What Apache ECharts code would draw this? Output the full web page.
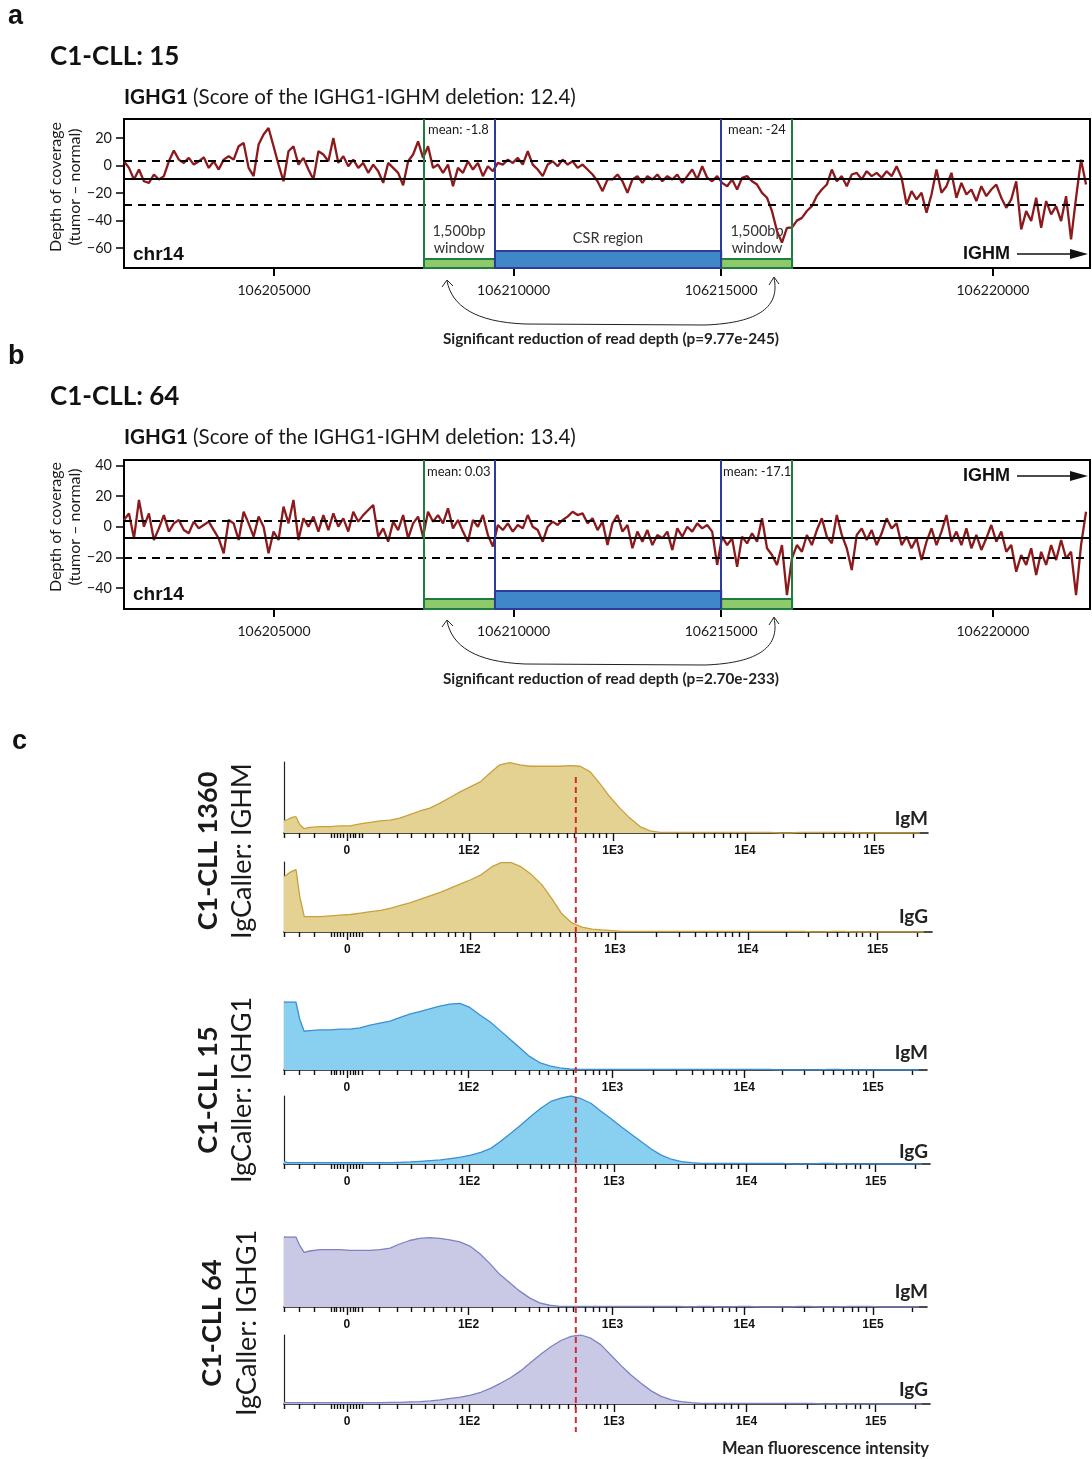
<!DOCTYPE html>
<html><head><meta charset="utf-8">
<script src="https://cdn.jsdelivr.net/npm/echarts@6/dist/echarts.min.js"></script>
<style>html,body{margin:0;padding:0;background:#fff}#c{width:1092px;height:1459px}</style>
</head><body><div id="c"></div>
<script>
// ---------- Panels a / b : depth of coverage (tumor - normal) ----------
const covStart = 106201870;   // first bin (bp)
const covStep = 104;          // bin width (bp)
const covMin = 106201870, covMax = 106222025;
const covA = [3.1,-1.7,-10.1,-2.9,-11.4,-12.6,-6.5,-10.1,-7.7,3.1,
 10.9,4.3,1.9,5.6,0.7,3.1,6,-1.7,3.1,-2.9,
 4.3,6.8,4.3,14,16.4,-1.7,-7.7,15.2,22.5,27.3,
 14,0.7,-11.4,10.4,14,0.7,5.6,-2.9,-10.1,10.4,
 8,3.1,20,1.9,6.8,-0.5,4.3,-1.7,1.9,-5.3,
 0.7,-4.1,-12.6,1.9,-1.7,-5.3,-14.3,3.1,8,17.6,
 5.6,14,-1.7,0.7,-5.3,0.7,-15,-1.7,-5.3,3.1,
 -2.9,1.9,-7.7,-0.5,-4.1,1.9,0.7,4.3,1.9,5.6,
 0.7,10.4,0.7,-2.9,-7.7,0.7,3.1,-0.5,4.3,0.7,
 3.1,-1.7,0.7,-2.9,-6.5,-11.4,-18.6,-10.1,
 -10.1,-6.5,-11.4,-19.8,-10.1,-7.7,-12.6,-7.7,-10.1,-6.5,
 -11.4,-7.7,-10.1,-6.5,-12.6,-7.7,-2.9,-10.1,-0.5,-8.9,
 -11.4,-7.7,-12.6,-15,-10.1,-17.4,-8.9,-7.7,-11.4,-13.8,
 -19.8,-23.4,-33.1,-47.6,-56,-45.2,-45,-40,-38,-33,
 -29.5,-22,-17.4,-13.8,-2.9,-11.4,-7.7,-15,-6.5,-5.3,
 -10.1,-4.1,-7.7,-5.3,-8.9,-4.1,-7.7,-0.5,-8.9,-28.3,
 -18.6,-24.6,-19.8,-34.3,-21,-2.9,-19.8,-15,-5.3,-23.4,
 -12.6,-21,-17.4,-25.8,-15,-22.2,-17.4,-13.8,-23.4,-30.7,
 -24.6,-11.4,-46.4,-33.1,-40.3,-23.4,-45.2,-25.8,-35.5,-29.5,
 -40.3,-22.2,-53.6,-23.4,4.3,-13.8];
const covB = [4.4,8.7,-7.6,17.5,0,8.7,-8.7,-1.1,7.6,-3.2,
 2.2,4.4,-2.2,-4.3,3.3,-1.1,1.1,3.3,-2.2,-7.6,
 -17.4,4.4,2.2,-8.7,9.8,2.2,-6.5,6.6,0,-17.4,
 -3.2,-8.7,13.1,2.2,17.5,-8.7,5.5,0,6.6,-3.2,
 7.6,-2.2,8.7,0,5.5,-3.2,9.8,3.3,7.6,10.9,
 14.2,-6.5,-1.1,-9.8,3.3,-2.2,7.6,-7.6,2.2,6.6,
 -6.5,9.8,3.3,7.6,2.2,12,-1.1,4.4,-3.2,-9.8,
 4.4,0,7.6,-5.4,-13,1.1,-2.2,2.2,-3.2,1.1,
 -1.1,7.6,0,-2.2,-9.8,0,3.3,1.1,4.4,6.6,
 9.8,7.6,8.7,2.2,5.5,-2.2,3.3,-12,
 2.2,7.6,-3.2,1.1,-14.1,-3.2,-9.8,-2.2,-12,-5.4,
 -7.6,-3.2,-15.2,-1.1,-6.5,0,-3.2,2.2,-1.1,1.1,
 -3.2,-25,-6.5,-12,-7.6,-26.2,-6.5,-10.9,-4.3,-9.8,
 5.5,-14.1,-18.5,-25,-12,-44.7,-20.7,-12,-16.4,-5.4,
 -12,-2.2,5.5,-6.5,-10.9,7.6,-5.4,-14.1,-28.3,-5.4,
 -1.1,-8.7,-2.2,-12,-4.3,5.5,-1.1,2.2,-12,-6.5,
 -14.1,-7.6,-21.8,-9.8,-1.1,-12,-3.2,7.6,-9.8,-3.2,
 -12,-1.1,-14.1,-5.4,-15.2,-7.6,1.1,-9.8,-3.2,-16.4,
 -12,-29.4,-18.5,-25,-14.1,-31.6,-16.4,-25,-12,-21.8,
 -8.7,-20.7,-16.4,-44.7,-12,9.8];
const xTickValues = [106205000, 106210000, 106214330, 106220000];
const xTickLabels = ['106205000', '106210000', '106215000', '106220000'];
const yTicksA = [20, 0, -20, -40, -60];
const yTicksB = [40, 20, 0, -20, -40];
const yRangeA = [-74.4, 33.8];
const yRangeB = [-53.8, 43.6];
const refA = { mean: -9.6, upper: 3.8, lower: -28.5 };
const refB = { mean: -6.9, upper: 3.9, lower: -20 };
const win1 = [106208130, 106209610];
const csr = [106209610, 106214330];
const win2 = [106214330, 106215810];
const barTopsA = { win: -67.9, csr: -62.1 };
const barTopsB = { win: -47.3, csr: -42.0 };

// ---------- Panel c : flow cytometry histograms (channel, % of mode) ----------
const histCh = [0,6,13,19,25,32,41,57,73,89,105,121,137,153,169,184,200,216,232,248,264,280,296,312,328,343,359,375,391,407,423,439,455,471,487,502,518,534,550,566,582,598,614,630,646,661,677,693,709,725,741,757,773,789,805,820,836,852,868,884,900,916,932,948,964,979,995,1011];
const h1360IgM = [17,19,22,23,12,6,8,9,9,10,10,13,15,17,18,21,26,31,35,42,50,58,65,72,85,96,99,96,94,94,94,94,95,94,86,70,51,35,21,9,3,1,0.8,0.8,0.8,0.8,0.8,0.8,0.8,0.8,0.8,0.8,0.8,0,0,0.8,0.8,0.8,0.8,0.8,0.8,0,0,0,0,0,0,0];
const h1360IgG = [79,83,87,89,50,22,22,22,23,24,25,27,29,31,34,38,42,47,52,57,63,69,75,82,93,99,99,93,82,68,48,26,13,7,4,3,2,1,1,1,1,1,1,1,1,1,1,1,1,1,1,1,1,1,1,1,0,0,1,1,0,0,0,0,0,0,0,0];
const h15IgM = [100,100,100,100,75,57,58,59,59,60,60,62,66,69,72,77,82,86,90,94,97,98,92,81,71,59,46,33,20,11,6,3,1.5,1,1,1,1,1,1,1,1,1,1,1,1,1,1,1,1,1,1,1,1,0,0,0,0,0,1,1,0,0,0,0,0,0,0,0];
const h15IgG = [3.5,2,2,2,2,2,2,2,2,2,2,2,2,2,2,2.5,3,4,5,6,8,10,13,17,23,33,45,57,70,82,92,97,100,96,89,78,67,55,44,33,22,13,7,3.5,2,1,1,1,1,1,1,1,1,1,0,0,0,1,1,0,0,0,0,0,0,0,0,0];
const h64IgM = [100,100,100,100,88,78,80,82,82,82,81,81,81,82,84,90,95,98,99,98,96,93,87,76,62,47,35,23,13,6,2.5,1,1,1,1,1,1,1,1,1,1,1,1,1,0,1,1,0,0,1,1,0,0,0,0,1,1,0,0,0,1,1,1,0,0,0,0,0];
const h64IgG = [2.5,2,2,2,2,2,2,2,2,2,2,2,2,2,2.5,2.5,3,3.5,4.5,6,8,10,13,17,23,30,38,48,60,72,83,92,98,100,95,86,71,56,42,30,19,11,6,3.5,2,1,1,1,1,1,1,1,1,1,1,1,1,0,0,0,0,0,0,0,0,0,0,0];
const histMajorCh = [100, 294, 523, 733, 938];
const histMajorLabels = ['0', '1E2', '1E3', '1E4', '1E5'];
const histMinorCh = [0,24,48,75,80,84,89,94,105,110,114,119,124,151,180,202,224,238,259,271,283,332,369,391,407,421,436,450,461,479,492,502,513,588,625,650,668,684,698,709,720,794,829,858,875,891,905,914,927,1000];
const thresholdCh = 464;
const histRows = [
  { label: 'IgM', data: h1360IgM, fill: '#e4d292', stroke: '#c9a03c' },
  { label: 'IgG', data: h1360IgG, fill: '#e4d292', stroke: '#c9a03c' },
  { label: 'IgM', data: h15IgM, fill: '#88cff0', stroke: '#3b8fd4' },
  { label: 'IgG', data: h15IgG, fill: '#88cff0', stroke: '#3b8fd4' },
  { label: 'IgM', data: h64IgM, fill: '#c9c9e6', stroke: '#7d82c2' },
  { label: 'IgG', data: h64IgG, fill: '#c9c9e6', stroke: '#7d82c2' }
];

// ---------- layout ----------
const MY = 'Lato, "Open Sans", sans-serif';
const AR = '"Liberation Sans", Arial, sans-serif';
const covGridPos = [ {left:124, top:119, width:966, height:149}, {left:124, top:460, width:966, height:149} ];
const histGridPos = [
  {left:284, top:762, width:644, height:71},
  {left:284, top:862, width:648, height:70},
  {left:284, top:1002, width:643, height:68},
  {left:284, top:1096, width:646, height:68},
  {left:284, top:1237, width:643, height:70},
  {left:284, top:1335, width:646, height:69}
];
const GREEN = '#1f7d3f', GREENF = '#8ec96c', BLUE = '#2c3d99', BLUEF = '#3f87c9', RED = '#8c1a1c';

const grids = [], xAxes = [], yAxes = [], series = [];
covGridPos.forEach(p => grids.push(Object.assign({show:true, borderColor:'#000', borderWidth:2, backgroundColor:'transparent'}, p)));
histGridPos.forEach(p => grids.push(Object.assign({}, p)));

function covPanel(g, vals, yTicks, yRange, ref, tops) {
  xAxes.push({type:'value', gridIndex:g, min:covMin, max:covMax, position:'bottom',
    axisLine:{show:true, onZero:false, lineStyle:{color:'#000', width:2}},
    axisTick:{show:true, customValues:xTickValues, length:8, lineStyle:{color:'#000', width:2}},
    axisLabel:{show:true, customValues:xTickValues, formatter:v => xTickLabels[xTickValues.indexOf(v)],
      fontSize:14, fontFamily:MY, color:'#1a1a1a', margin:15},
    splitLine:{show:false}});
  yAxes.push({type:'value', gridIndex:g, min:yRange[0], max:yRange[1],
    axisLine:{show:true, onZero:false, lineStyle:{color:'#000', width:2}},
    axisTick:{show:true, customValues:yTicks, length:8, lineStyle:{color:'#000', width:1.5}},
    axisLabel:{show:true, customValues:yTicks, formatter:v => String(v).replace('-', '\u2212'),
      fontSize:14.5, fontFamily:MY, color:'#1a1a1a', margin:12},
    splitLine:{show:false}});
  series.push({type:'line', xAxisIndex:g, yAxisIndex:g, z:3,
    data: vals.map((v, i) => [covStart + i * covStep, v]),
    symbol:'none', lineStyle:{color:RED, width:2.3}, silent:true, animation:false,
    markArea:{silent:true, z:1, data:[
      [{xAxis:win1[0], yAxis:yRange[0], itemStyle:{color:GREENF, borderColor:GREEN, borderWidth:2}}, {xAxis:win1[1], yAxis:tops.win}],
      [{xAxis:csr[0], yAxis:yRange[0], itemStyle:{color:BLUEF, borderColor:BLUE, borderWidth:2}}, {xAxis:csr[1], yAxis:tops.csr}],
      [{xAxis:win2[0], yAxis:yRange[0], itemStyle:{color:GREENF, borderColor:GREEN, borderWidth:2}}, {xAxis:win2[1], yAxis:tops.win}]
    ]},
    markLine:{silent:true, z:5, symbol:['none','none'], label:{show:false}, animation:false,
      data:[
        {yAxis:ref.mean, lineStyle:{color:'#000', width:2, type:'solid'}},
        {yAxis:ref.upper, lineStyle:{color:'#000', width:2, type:[8,6]}},
        {yAxis:ref.lower, lineStyle:{color:'#000', width:2, type:[8,6]}},
        {xAxis:win1[0], lineStyle:{color:GREEN, width:2, type:'solid'}},
        {xAxis:csr[0], lineStyle:{color:BLUE, width:2, type:'solid'}},
        {xAxis:csr[1], lineStyle:{color:BLUE, width:2, type:'solid'}},
        {xAxis:win2[1], lineStyle:{color:GREEN, width:2, type:'solid'}}
      ]}
  });
}
covPanel(0, covA, yTicksA, yRangeA, refA, barTopsA);
covPanel(1, covB, yTicksB, yRangeB, refB, barTopsB);

histRows.forEach((row, k) => {
  const g = 2 + k;
  xAxes.push({type:'value', gridIndex:g, min:0, max:1024, position:'bottom',
    axisLine:{show:true, onZero:false, lineStyle:{color:'#111', width:1.6}},
    axisTick:{show:true, customValues:histMajorCh, length:8, lineStyle:{color:'#111', width:1.4}},
    axisLabel:{show:true, customValues:histMajorCh, formatter:v => histMajorLabels[histMajorCh.indexOf(v)],
      fontSize:12, fontWeight:'bold', fontFamily:AR, color:'#111', margin:12},
    splitLine:{show:false}});
  xAxes.push({type:'value', gridIndex:g, min:0, max:1024, position:'bottom',
    axisLine:{show:false, onZero:false},
    axisTick:{show:true, customValues:histMinorCh, length:5, lineStyle:{color:'#111', width:1.4}},
    axisLabel:{show:false}, splitLine:{show:false}});
  yAxes.push({type:'value', gridIndex:g, min:0, max:100,
    axisLine:{show:true, onZero:false, lineStyle:{color:'#222', width:1.2}},
    axisTick:{show:false}, axisLabel:{show:false}, splitLine:{show:false}});
  series.push({type:'line', xAxisIndex:2 + 2 * k, yAxisIndex:g, z:3,
    data: histCh.map((c, i) => [c, row.data[i]]),
    symbol:'none', silent:true, animation:false,
    lineStyle:{color:row.stroke, width:1.3},
    areaStyle:{color:row.fill, opacity:1}});
});

// ---------- annotations ----------
function txt(x, y, text, font, opt) {
  return Object.assign({type:'text', x:x, y:y, z:0, silent:true,
    style:Object.assign({text:text, font:font, fill:'#1a1a1a', textAlign:'left', textVerticalAlign:'middle'}, (opt && opt.style) || {})},
    (opt && opt.el) || {});
}
function rot(x, y, text, font) {
  return {type:'text', x:x, y:y, rotation:Math.PI / 2, silent:true,
    style:{text:text, font:font, fill:'#1a1a1a', textAlign:'center', textVerticalAlign:'middle'}};
}
const graphics = [];
function panelHeader(dy, letter, title, score) {
  graphics.push(txt(8, 17 + dy, letter, 'bold 27px ' + AR, {style:{fill:'#111'}}));
  graphics.push(txt(50, 57 + dy, title, 'bold 26px ' + MY, {style:{fill:'#111'}}));
  graphics.push({type:'text', x:124, y:97 + dy, silent:true, style:{
    text:'{b|IGHG1} (Score of the IGHG1-IGHM deletion: ' + score + ')',
    font:'20.6px ' + MY, fill:'#1a1a1a', textVerticalAlign:'middle',
    rich:{b:{font:'bold 20.6px ' + MY, fill:'#111'}}}});
  graphics.push(rot(56, 187 + dy, 'Depth of coverage', '16px ' + MY));
  graphics.push(rot(75, 187 + dy, '(tumor \u2013 normal)', '16px ' + MY));
  graphics.push(txt(133, 255 + dy, 'chr14', 'bold 19px ' + AR, {style:{fill:'#111'}}));
}
panelHeader(0, 'a', 'C1-CLL: 15', '12.4');
panelHeader(340, 'b', 'C1-CLL: 64', '13.4');
graphics.push(txt(428, 130, 'mean: -1.8', '13px ' + MY));
graphics.push(txt(728, 130, 'mean: -24', '13px ' + MY));
graphics.push(txt(427, 472, 'mean: 0.03', '13px ' + MY));
graphics.push(txt(723, 472, 'mean: -17.1', '13px ' + MY));
[[459, 231, '1,500bp'], [459, 248, 'window'], [608, 238, 'CSR region'], [757, 231, '1,500bp'], [757, 248, 'window']]
  .forEach(t => graphics.push(txt(t[0], t[1], t[2], '14.5px ' + MY, {style:{textAlign:'center', fill:'#333'}})));
function ighm(y) {
  graphics.push(txt(963, y, 'IGHM', 'bold 18px ' + AR, {style:{fill:'#111'}}));
  graphics.push({type:'line', silent:true, shape:{x1:1017, y1:y, x2:1074, y2:y}, style:{stroke:'#111', lineWidth:1.5}});
  graphics.push({type:'polygon', silent:true, shape:{points:[[1070, y - 5], [1088, y], [1070, y + 5]]}, style:{fill:'#111'}});
}
ighm(254); ighm(476);
function brace(dy, p) {
  const st = {stroke:'#222', fill:null, lineWidth:1};
  graphics.push({type:'bezierCurve', silent:true, shape:{x1:447, y1:281 + dy, cpx1:452, cpy1:306 + dy, cpx2:475, cpy2:322 + dy, x2:525, y2:324 + dy}, style:st});
  graphics.push({type:'line', silent:true, shape:{x1:525, y1:324 + dy, x2:705, y2:325 + dy}, style:st});
  graphics.push({type:'bezierCurve', silent:true, shape:{x1:705, y1:325 + dy, cpx1:760, cpy1:323 + dy, cpx2:780, cpy2:306 + dy, x2:774, y2:278 + dy}, style:st});
  graphics.push({type:'polyline', silent:true, shape:{points:[[442, 287 + dy], [447, 280 + dy], [453, 286 + dy]]}, style:st});
  graphics.push({type:'polyline', silent:true, shape:{points:[[769, 285 + dy], [774, 277 + dy], [779, 284 + dy]]}, style:st});
  graphics.push(txt(611, 339 + dy, 'Significant reduction of read depth (p=' + p + ')', 'bold 15.3px ' + MY, {style:{textAlign:'center', fill:'#222'}}));
}
brace(0, '9.77e-245');
brace(340, '2.70e-233');

// panel c labels
graphics.push(txt(12, 742, 'c', 'bold 27px ' + AR, {style:{fill:'#111'}}));
[[208, 242, 851, 'C1-CLL 1360', 'IgCaller: IGHM'], [208, 242, 1090, 'C1-CLL 15', 'IgCaller: IGHG1'], [212, 247, 1323, 'C1-CLL 64', 'IgCaller: IGHG1']]
  .forEach(r => { graphics.push(rot(r[0], r[2], r[3], 'bold 27px ' + MY)); graphics.push(rot(r[1], r[2], r[4], '27px ' + MY)); });
const igY = [819, 917, 1053, 1152, 1292, 1390];
histRows.forEach((row, k) => graphics.push(txt(928, igY[k], row.label, 'bold 19px ' + MY, {style:{textAlign:'right', fill:'#222'}})));
graphics.push(txt(929, 1449, 'Mean fluorescence intensity', 'bold 16.5px ' + MY, {style:{textAlign:'right', fill:'#222'}}));

const chart = echarts.init(document.getElementById('c'), null, {renderer:'canvas', width:1092, height:1459});
chart.setOption({animation:false, backgroundColor:'#fff', grid:grids, xAxis:xAxes, yAxis:yAxes, series:series, graphic:graphics});

// threshold line through all histograms, positioned by the histogram x scale
const tx = chart.convertToPixel({xAxisIndex:2}, thresholdCh);
graphics.push({type:'line', silent:true, z:10, shape:{x1:tx, y1:777, x2:tx, y2:1432},
  style:{stroke:'#d42a30', lineWidth:2, lineDash:[6, 4]}});
chart.setOption({graphic:graphics});
</script>
</body></html>
